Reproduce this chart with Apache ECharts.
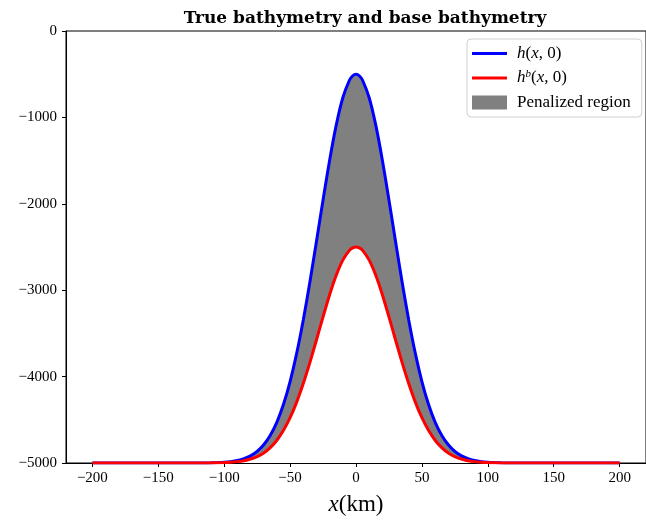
<!DOCTYPE html>
<html>
<head>
<meta charset="utf-8">
<script src="https://cdn.jsdelivr.net/npm/echarts@6/dist/echarts.min.js"></script>
<style>html,body{margin:0;padding:0;background:#fff}#c{width:646px;height:524px}</style>
</head>
<body>
<div id="c"></div>
<script>
// x positions (km)
const xKm = [-200,-180,-160,-140,-120,-115,-110,-105,-100,-95,-90,-85,-80,-75,-70,-65,-60,-55,-50,-45,-40,-35,-30,-25,-20,-15,-10,-5,-2.5,0,
  2.5,5,10,15,20,25,30,35,40,45,50,55,60,65,70,75,80,85,90,95,100,105,110,115,120,140,160,180,200];
// true bathymetry h(x,0)
const hTrue = [-5000,-5000,-5000,-5000,-5000,-4999,-4998,-4995,-4991,-4984,-4972,-4951,-4918,-4866,-4789,-4679,-4526,-4321,-4057,-3731,-3345,-2908,-2436,-1955,-1495,-1090,-773,-570,-518,-500,
  -518,-570,-773,-1090,-1495,-1955,-2436,-2908,-3345,-3731,-4057,-4321,-4526,-4679,-4789,-4866,-4918,-4951,-4972,-4984,-4991,-4995,-4998,-4999,-5000,-5000,-5000,-5000,-5000];
// base bathymetry h^b(x,0)
const hBase = [-5000,-5000,-5000,-5000,-5000,-5000,-4999,-4997,-4995,-4991,-4984,-4973,-4954,-4926,-4883,-4822,-4737,-4622,-4476,-4295,-4080,-3838,-3576,-3309,-3053,-2828,-2652,-2539,-2510,-2500,
  -2510,-2539,-2652,-2828,-3053,-3309,-3576,-3838,-4080,-4295,-4476,-4622,-4737,-4822,-4883,-4926,-4954,-4973,-4984,-4991,-4995,-4997,-4999,-5000,-5000,-5000,-5000,-5000,-5000];
const xTicks = [-200,-150,-100,-50,0,50,100,150,200];
const yTicks = [0,-1000,-2000,-3000,-4000,-5000];

const pts = (ys) => xKm.map((x, i) => [x, ys[i]]);
const FONT = 'Liberation Serif';
const minus = v => String(v).replace('-', '\u2212');
const LINE_ICON = 'path://M0,0H40V3.4H0Z';

const chart = echarts.init(document.getElementById('c'), null, {renderer: 'canvas'});
chart.setOption({
  animation: false,
  backgroundColor: '#fff',
  textStyle: {fontFamily: FONT, color: '#000'},
  title: {
    text: 'True bathymetry and base bathymetry',
    left: 360, textAlign: 'center', top: 5,
    textStyle: {fontFamily: 'DejaVu Serif', fontSize: 17, fontWeight: 'bold', color: '#000'}
  },
  grid: {left: 66, top: 31, width: 584, bottom: 61, show: true, borderColor: '#000', borderWidth: 1, backgroundColor: 'transparent'},
  legend: {
    orient: 'vertical', left: 467, top: 39,
    padding: [6, 11, 6, 5],
    itemWidth: 35, itemHeight: 14, itemGap: 6.5,
    borderColor: '#d0d0d0', borderWidth: 1, borderRadius: 4, backgroundColor: '#fff',
    data: [{name: 'h', icon: LINE_ICON}, {name: 'hb', icon: LINE_ICON}, {name: 'pen', icon: 'rect'}],
    formatter: n => n === 'h' ? '{i|h}({i|x}, 0)' : n === 'hb' ? '{i|h}{s|b}({i|x}, 0)' : '{r|Penalized region}',
    textStyle: {fontFamily: FONT, fontSize: 17, color: '#000', lineHeight: 14, padding: [0, 0, 0, 5],
      rich: {
        r: {fontFamily: FONT, fontSize: 17, lineHeight: 14},
        i: {fontFamily: FONT, fontStyle: 'italic', fontSize: 17, lineHeight: 14},
        s: {fontFamily: FONT, fontStyle: 'italic', fontSize: 11, lineHeight: 14, padding: [0, 0, 8, 0]}}}
  },
  xAxis: {
    type: 'value', min: -220, max: 220,
    name: '{i|x}(km)', nameLocation: 'middle', nameGap: 30,
    nameTextStyle: {fontFamily: FONT, fontSize: 23, color: '#000', rich: {i: {fontFamily: FONT, fontStyle: 'italic', fontSize: 23}}},
    axisLine: {show: true, onZero: false, lineStyle: {color: '#000', width: 1}},
    axisTick: {show: true, length: 4, customValues: xTicks, lineStyle: {color: '#000'}},
    axisLabel: {customValues: xTicks, margin: 8, fontFamily: FONT, fontSize: 15, color: '#000', formatter: minus},
    splitLine: {show: false}
  },
  yAxis: {
    type: 'value', min: -5000, max: 0, interval: 1000,
    axisLine: {show: true, onZero: false, lineStyle: {color: '#000', width: 1}},
    axisTick: {show: true, length: 4, lineStyle: {color: '#000'}},
    axisLabel: {margin: 9, fontFamily: FONT, fontSize: 15, color: '#000', formatter: minus},
    splitLine: {show: false}
  },
  series: [
    {name: 'pen', type: 'line', data: pts(hTrue), symbol: 'none', smooth: 0.2, color: '#808080',
      itemStyle: {color: '#808080'}, lineStyle: {width: 0, opacity: 0},
      areaStyle: {color: '#808080', opacity: 1, origin: 'start'}, z: 1},
    {name: 'mask', type: 'line', data: pts(hBase), symbol: 'none', smooth: 0.2, silent: true,
      lineStyle: {width: 0, opacity: 0}, areaStyle: {color: '#ffffff', opacity: 1, origin: 'start'}, z: 2},
    {name: 'h', type: 'line', data: pts(hTrue), symbol: 'none', smooth: 0.2, color: '#0000ff', lineStyle: {color: '#0000ff', width: 3}, z: 3},
    {name: 'hb', type: 'line', data: pts(hBase), symbol: 'none', smooth: 0.2, color: '#ff0000', lineStyle: {color: '#ff0000', width: 3}, z: 4}
  ]
});
</script>
</body>
</html>
